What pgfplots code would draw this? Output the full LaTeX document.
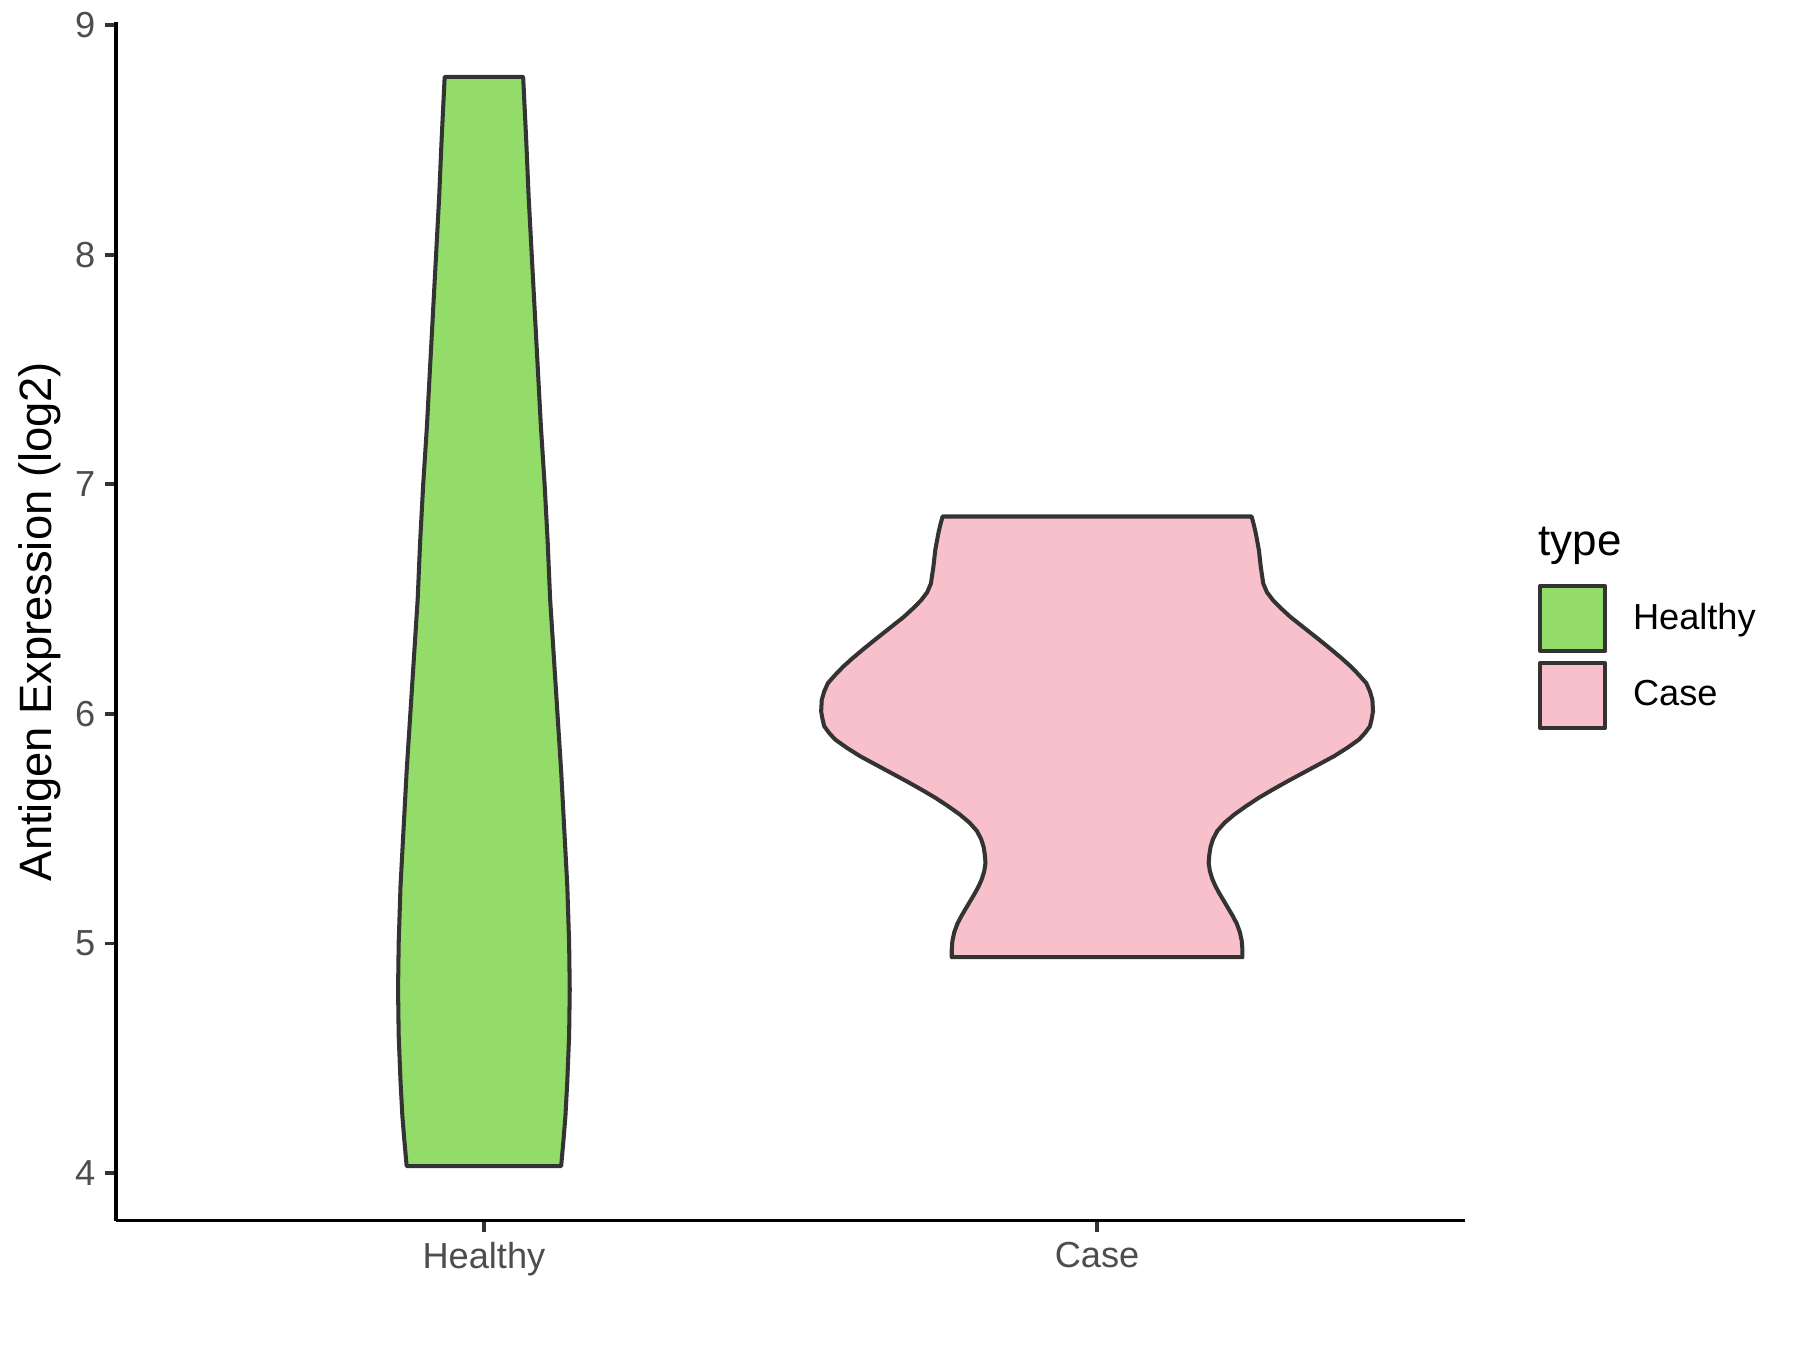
\documentclass[border=0pt]{standalone}
\usepackage{fontspec}
\setmainfont{Liberation Sans}
\usepackage{pgfplots}
\usepackage{pgfplotstable}
\pgfplotsset{compat=1.18}
\definecolor{healthyfill}{HTML}{93DC6A}
\definecolor{casefill}{HTML}{F7C0CB}
\definecolor{outline}{HTML}{333333}
\definecolor{ticktext}{HTML}{4D4D4D}

% violin outlines: s = side (-1 left, +1 right), y = expression, h = half width
\pgfplotstableread{
s y h
-1 8.775 0.064
-1 8.500 0.069
-1 8.250 0.073
-1 8.000 0.078
-1 7.750 0.083
-1 7.500 0.088
-1 7.250 0.093
-1 7.000 0.099
-1 6.750 0.104
-1 6.500 0.108
-1 6.250 0.114
-1 6.000 0.120
-1 5.750 0.126
-1 5.500 0.131
-1 5.250 0.136
-1 5.000 0.139
-1 4.800 0.140
-1 4.600 0.139
-1 4.400 0.136
-1 4.250 0.133
-1 4.150 0.130
-1 4.030 0.126
1 4.030 0.126
1 4.150 0.130
1 4.250 0.133
1 4.400 0.136
1 4.600 0.139
1 4.800 0.140
1 5.000 0.139
1 5.250 0.136
1 5.500 0.131
1 5.750 0.126
1 6.000 0.120
1 6.250 0.114
1 6.500 0.108
1 6.750 0.104
1 7.000 0.099
1 7.250 0.093
1 7.500 0.088
1 7.750 0.083
1 8.000 0.078
1 8.250 0.073
1 8.500 0.069
1 8.775 0.064
}\healthy

\pgfplotstableread{
s y h
-1 6.860 0.252
-1 6.820 0.256
-1 6.785 0.259
-1 6.712 0.264
-1 6.640 0.267
-1 6.568 0.271
-1 6.530 0.277
-1 6.495 0.287
-1 6.460 0.300
-1 6.423 0.315
-1 6.387 0.332
-1 6.351 0.349
-1 6.315 0.366
-1 6.278 0.383
-1 6.242 0.399
-1 6.206 0.414
-1 6.170 0.427
-1 6.134 0.439
-1 6.098 0.445
-1 6.061 0.449
-1 6.011 0.450
-1 5.980 0.448
-1 5.946 0.445
-1 5.917 0.437
-1 5.888 0.427
-1 5.852 0.408
-1 5.815 0.386
-1 5.779 0.361
-1 5.743 0.336
-1 5.707 0.311
-1 5.671 0.287
-1 5.635 0.264
-1 5.598 0.243
-1 5.562 0.224
-1 5.526 0.208
-1 5.490 0.196
-1 5.454 0.189
-1 5.420 0.185
-1 5.385 0.183
-1 5.350 0.182
-1 5.315 0.184
-1 5.280 0.188
-1 5.250 0.193
-1 5.220 0.199
-1 5.193 0.205
-1 5.157 0.213
-1 5.121 0.221
-1 5.085 0.228
-1 5.048 0.233
-1 5.010 0.236
-1 4.975 0.237
-1 4.940 0.237
1 4.940 0.237
1 4.975 0.237
1 5.010 0.236
1 5.048 0.233
1 5.085 0.228
1 5.121 0.221
1 5.157 0.213
1 5.193 0.205
1 5.220 0.199
1 5.250 0.193
1 5.280 0.188
1 5.315 0.184
1 5.350 0.182
1 5.385 0.183
1 5.420 0.185
1 5.454 0.189
1 5.490 0.196
1 5.526 0.208
1 5.562 0.224
1 5.598 0.243
1 5.635 0.264
1 5.671 0.287
1 5.707 0.311
1 5.743 0.336
1 5.779 0.361
1 5.815 0.386
1 5.852 0.408
1 5.888 0.427
1 5.917 0.437
1 5.946 0.445
1 5.980 0.448
1 6.011 0.450
1 6.061 0.449
1 6.098 0.445
1 6.134 0.439
1 6.170 0.427
1 6.206 0.414
1 6.242 0.399
1 6.278 0.383
1 6.315 0.366
1 6.351 0.349
1 6.387 0.332
1 6.423 0.315
1 6.460 0.300
1 6.495 0.287
1 6.530 0.277
1 6.568 0.271
1 6.640 0.267
1 6.712 0.264
1 6.785 0.259
1 6.820 0.256
1 6.860 0.252
}\case

\begin{document}
\begin{tikzpicture}
\path[use as bounding box] (-1.16cm,-1.295cm) rectangle (16.84cm,12.205cm);
\begin{axis}[
  scale only axis, width=13.49cm, height=11.98cm,
  xmin=0.4, xmax=2.6, ymin=3.793, ymax=9.012,
  axis x line=bottom, axis y line=left,
  axis line style={-, black, line width=1.1pt},
  xtick={1,2}, xticklabels={Healthy,Case},
  ytick={4,5,6,7,8,9},
  tick align=outside, major tick length=0.11cm,
  tick style={outline, line width=1.1pt},
  /pgf/number format/assume math mode=true,
  xticklabel style={font=\fontsize{10.3}{12}\selectfont, text=ticktext, inner sep=0pt, anchor=north, yshift=-0.105cm},
  yticklabel style={font=\fontsize{10.3}{12}\selectfont, text=ticktext, inner sep=0pt, anchor=east, xshift=-0.09cm},
  ylabel={Antigen Expression (log2)},
  ylabel style={at={(axis description cs:-0.0563,0.5)}, anchor=center, font=\fontsize{12.9}{15}\selectfont},
  clip=false,
  legend cell align=left,
  legend image code/.code={\draw[#1] (0cm,-0.325cm) rectangle (0.65cm,0.325cm);},
  legend style={at={(1.0541,0.5313)}, anchor=north west, draw=none, fill=none,
    inner sep=0pt, outer sep=0pt, row sep=0.08cm, column sep=0.26cm,
    nodes={inner sep=0pt, font=\fontsize{10.3}{12}\selectfont}},
]
\addplot[fill=healthyfill, draw=outline, line width=1.15pt, line join=round]
  table[x expr=1+\thisrow{s}*\thisrow{h}, y=y] {\healthy} -- cycle;
\addlegendentry{Healthy}
\addplot[fill=casefill, draw=outline, line width=1.15pt, line join=round]
  table[x expr=2+\thisrow{s}*\thisrow{h}, y=y] {\case} -- cycle;
\addlegendentry{Case}
\node[anchor=base west, inner sep=0pt, font=\fontsize{12.5}{15}\selectfont]
  at (axis description cs:1.0541,0.5547) {type};
\end{axis}
\end{tikzpicture}
\end{document}
